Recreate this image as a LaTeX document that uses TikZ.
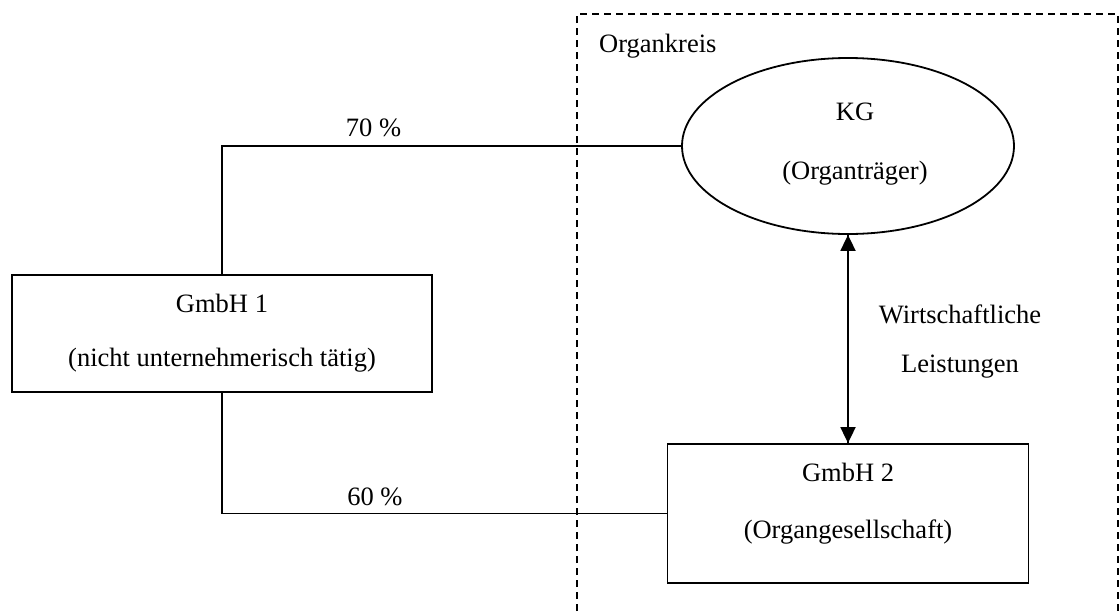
\documentclass[tikz,border=0pt]{standalone}
\usepackage{fontspec}
\setmainfont{Liberation Serif}
\usetikzlibrary{arrows.meta,shapes.geometric}
\begin{document}
\begin{tikzpicture}[x=1pt,y=-1pt,
  line/.style={line width=1.8pt},
  box/.style={draw,line width=1.8pt,inner sep=0pt},
  txt/.style={font=\fontsize{26.5}{30}\selectfont,inner sep=0pt,anchor=center},
  tip/.style={-{Triangle[length=16pt,width=15pt]}}]
\useasboundingbox (0,0) rectangle (1120,611);
\fill[white] (0,0) rectangle (1120,611);
% Organkreis dashed frame
\draw[line width=1.6pt,dash pattern=on 7pt off 5pt] (577,611) -- (577,14) -- (1118,14) -- (1118,611);
\node[txt,anchor=west] (ok) at (599,46) {Organkreis};
% shapes
\node[box,ellipse,minimum width=332pt,minimum height=176pt] (kg) at (848,146) {};
\node[txt] (kgt1) at (855,112) {KG};
\node[txt] (kgt2) at (855,173) {(Organträger)};
\node[box,rectangle,minimum width=420pt,minimum height=117pt] (g1) at (222,333.5) {};
\node[txt] (g1t1) at (222,303) {GmbH 1};
\node[txt] (g1t2) at (222,360) {(nicht unternehmerisch tätig)};
\node[box,rectangle,minimum width=361pt,minimum height=139pt] (g2) at (848,513.5) {};
\node[txt] (g2t1) at (848,472) {GmbH 2};
\node[txt] (g2t2) at (848,532) {(Organgesellschaft)};
% connectors
\draw[line] (g1.north) |- node[txt,pos=0.665,yshift=18pt] (p70) {70 \%} (kg.west);
\draw[line] (g1.south) |- node[txt,pos=0.672,yshift=17pt] (p60) {60 \%} (g2.west);
\draw[line,tip] (kg.south) -- (g2.north);
\draw[line,tip] (g2.north) -- (kg.south);
\node[txt] (wl1) at (960,314) {Wirtschaftliche};
\node[txt] (wl2) at (960,367) {Leistungen};
\end{tikzpicture}
\end{document}
